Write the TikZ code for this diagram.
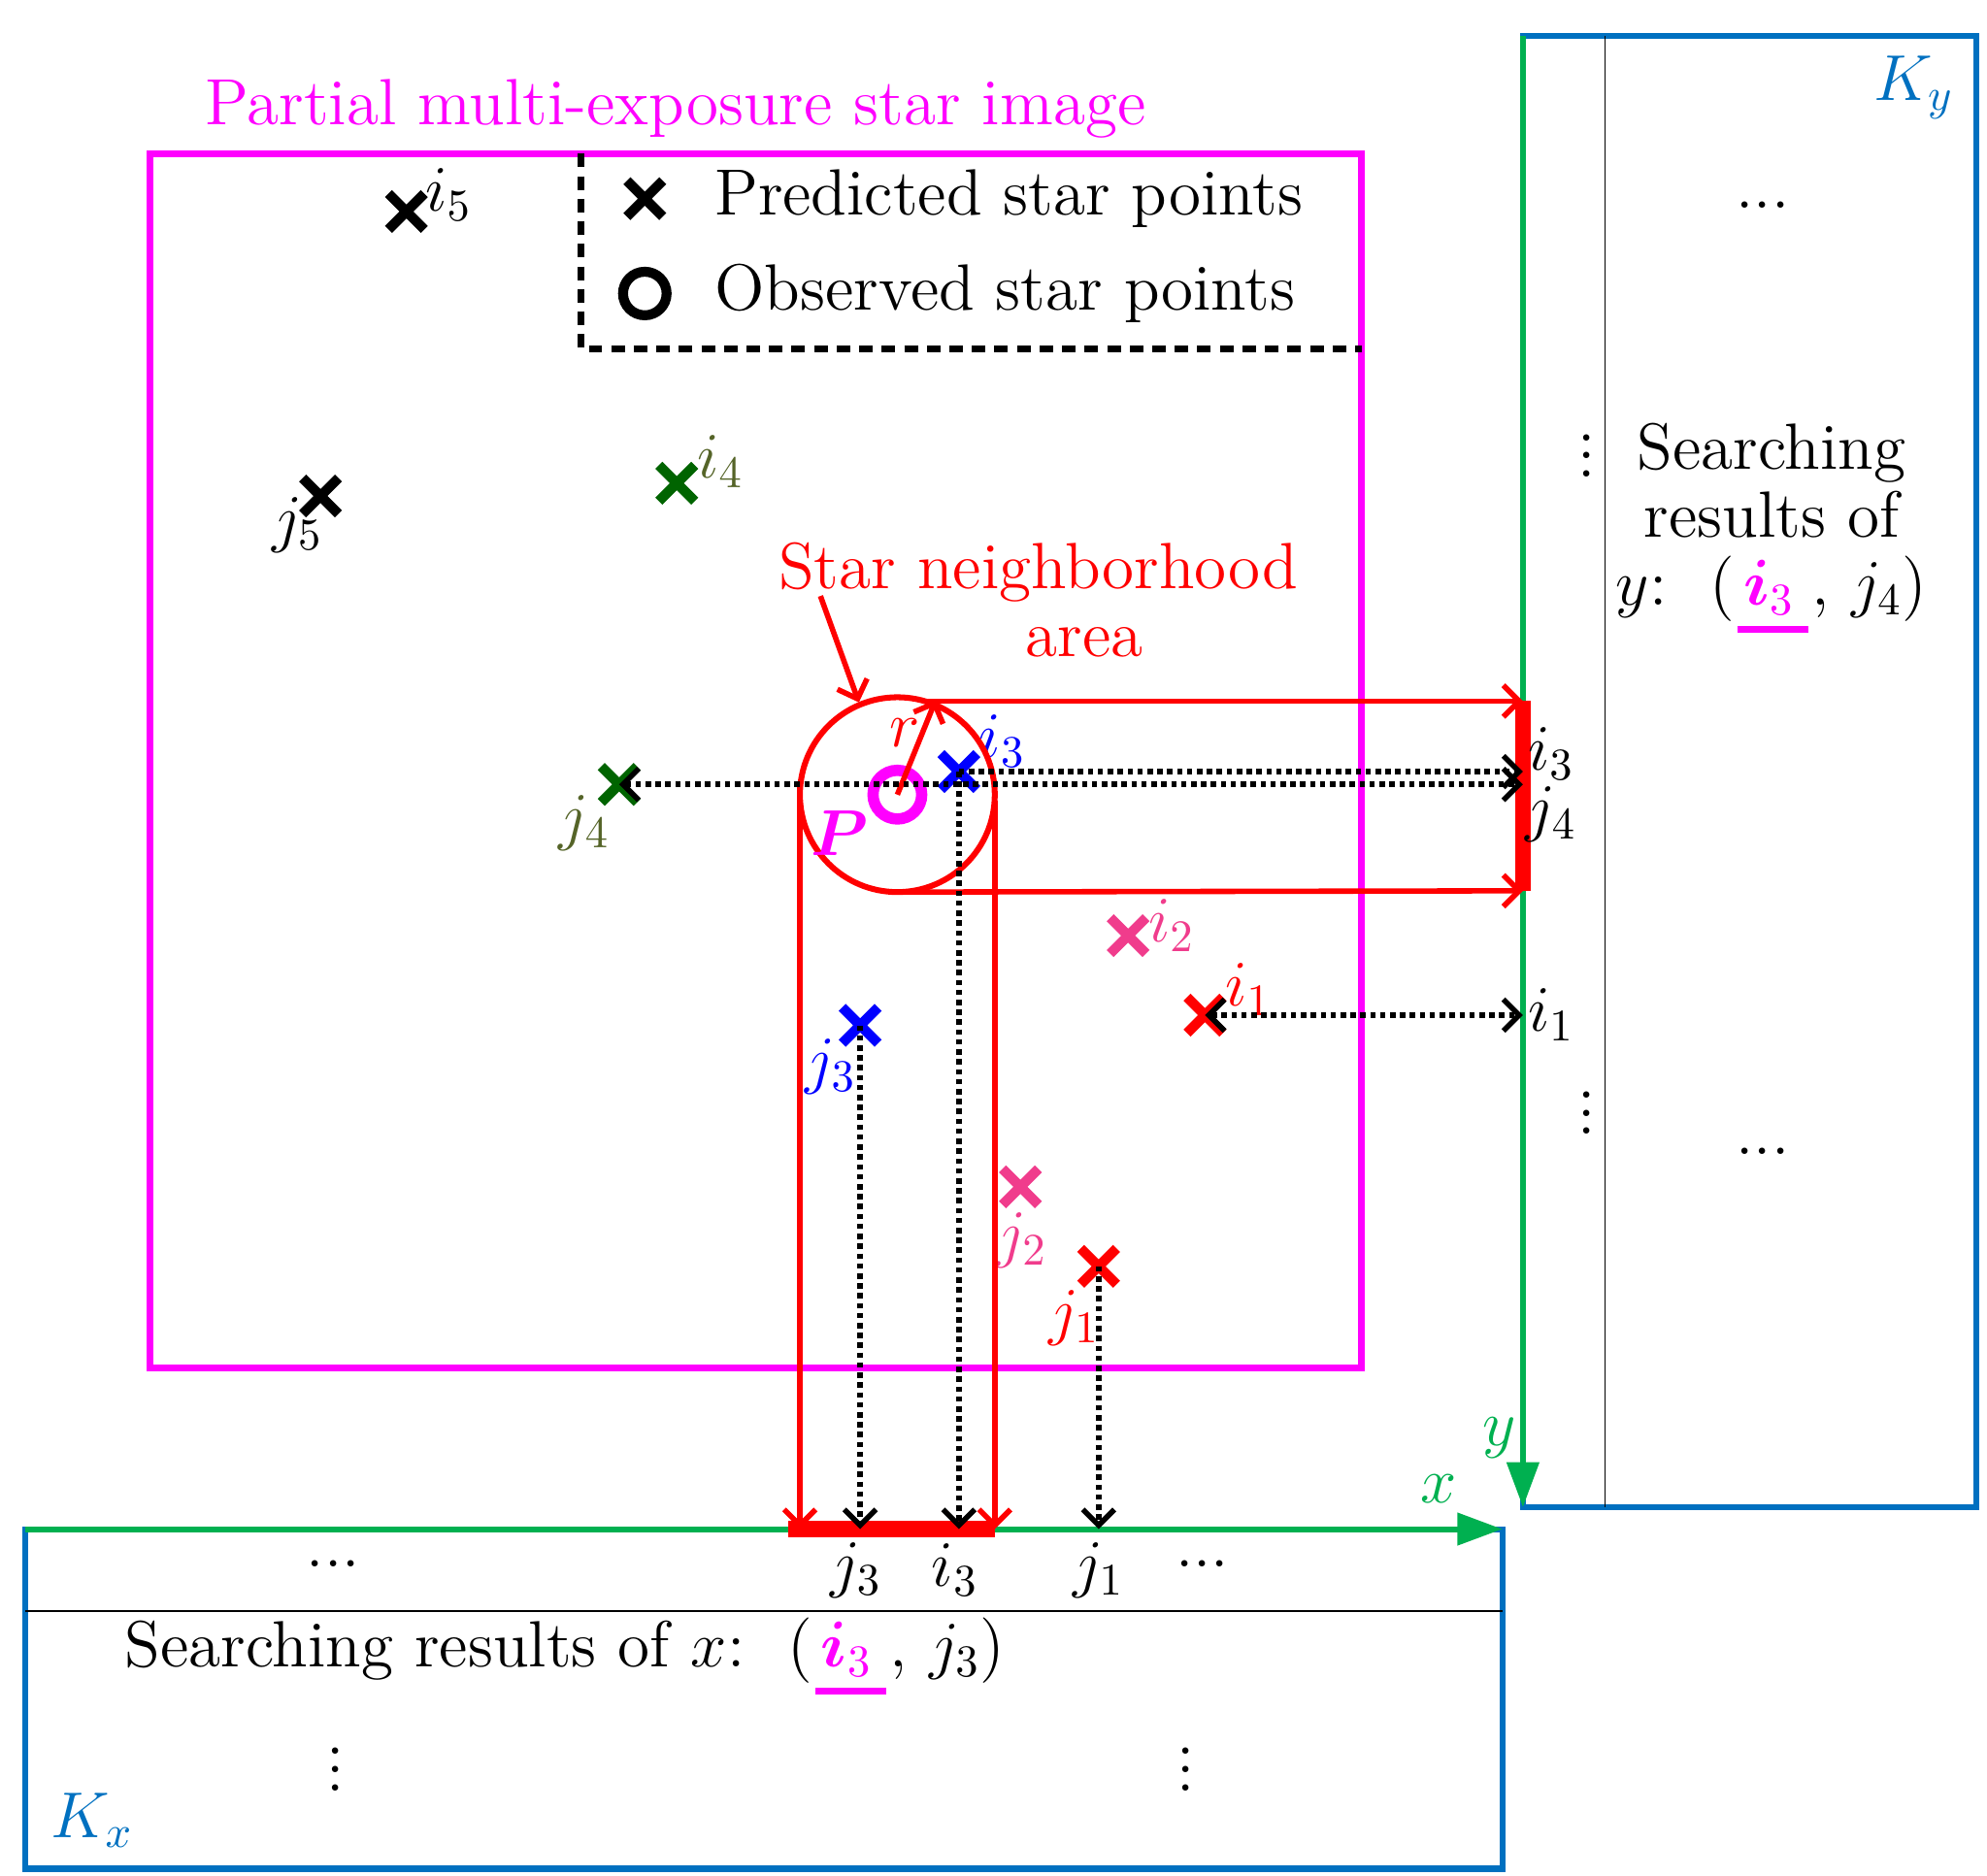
\documentclass[tikz,border=0pt]{standalone}
\usepackage{amsmath}
\usetikzlibrary{arrows.meta,calc}
\definecolor{mag}{RGB}{255,0,255}
\definecolor{kblue}{RGB}{0,112,192}
\definecolor{kgreen}{RGB}{0,176,80}
\definecolor{dgreen}{RGB}{0,100,0}
\definecolor{olive}{RGB}{85,100,40}
\definecolor{pinkx}{RGB}{240,60,140}
\newcommand{\magi}{\tikz[baseline=0pt]{\node[inner sep=0pt,anchor=base,text=mag] (u) {$\boldsymbol{i}_3$};\draw[mag,line width=1.5pt] ([xshift=-1pt,yshift=-3pt]u.south west) -- ([xshift=3pt,yshift=-3pt]u.south east);}}
\begin{document}
\begin{tikzpicture}[x=0.01cm,y=-0.01cm,
  big/.style={font=\fontsize{14.5}{17}\selectfont},
  lab/.style={font=\fontsize{14}{16}\selectfont},
  dotarr/.style={densely dotted,line width=1.2pt,-{Straight Barb[length=3.5pt]}},
  redarr/.style={red,line width=1.2pt,-{Straight Barb[length=3.5pt]}},
  xm/.style={line width=2.2pt}]
\useasboundingbox (0,0) rectangle (1550,1463);
\newcommand{\xmark}[3]{\coordinate (#3) at (#2);
  \draw[xm,#1] ($(#3)+(-14,-14)$) -- ($(#3)+(14,14)$) ($(#3)+(-14,14)$) -- ($(#3)+(14,-14)$);}
% frames
\draw[mag,line width=1.5pt] (117,120) rectangle (1062,1067);
\node[big,text=mag] (title) at (527,85) {Partial multi-exposure star image};
\draw[line width=1.5pt,densely dashed] (453,120) -- (453,272) -- (1062,272);
\draw[kblue,line width=1.3pt] (1188,28) rectangle (1542,1176);
\draw (1252,28) -- (1252,1176);
\draw[kblue,line width=1.3pt] (20,1193) rectangle (1172,1458);
\draw (20,1257) -- (1172,1257);
\coordinate (ys) at (1188,28); \coordinate (ye) at (1188,1176);
\coordinate (xs) at (20,1193); \coordinate (xe) at (1172,1193);
\draw[kgreen,line width=1.3pt,-{Triangle[length=10pt,width=7pt]}] (ys) -- (ye);
\draw[kgreen,line width=1.3pt,-{Triangle[length=10pt,width=7pt]}] (xs) -- (xe);
\node[lab,text=kgreen] (ylab) at (1170,1122) {$y$};
\node[lab,text=kgreen] (xlab) at (1122,1162) {$x$};
\node[big,text=kblue] (Ky) at (1493,68) {$K_y$};
\node[big,text=kblue] (Kx) at (72,1420) {$K_x$};
% legend
\xmark{black}{503,155}{lx}
\draw[line width=2.2pt] (503,229) circle (17);
\node[big,anchor=west] (l1) at (545,155) {Predicted star points};
\node[big,anchor=west] (l2) at (545,229) {Observed star points};
% Ky texts
\node[big] (d1) at (1375,160) {...};
\node[big] (v1) at (1238,345) {$\vdots$};
\node[big,align=center] (sy) at (1382,412) {Searching\\[-2pt] results of\\[-2pt] $y$:\ \ (\magi, $j_4$)};
\node[big] (v2) at (1238,858) {$\vdots$};
\node[big] (d2) at (1375,898) {...};
% Kx texts
\node[big] (d3) at (260,1220) {...};
\node[lab] (kj3) at (668,1225) {$j_3$};
\node[lab] (ki3) at (745,1225) {$i_3$};
\node[lab] (kj1) at (857,1225) {$j_1$};
\node[big] (d4) at (938,1220) {...};
\node[big,anchor=west] (sx) at (85,1292) {Searching results of $x$:\ \ (\magi, $j_3$)};
\node[big] (v3) at (262,1370) {$\vdots$};
\node[big] (v4) at (925,1370) {$\vdots$};
% crosses
\xmark{black}{317,165}{i5} \node[lab] at (350,152) {$i_5$};
\xmark{black}{250,387}{j5} \node[lab] at (232,410) {$j_5$};
\xmark{dgreen}{528,377}{i4} \node[lab,text=olive] at (562,360) {$i_4$};
\xmark{dgreen}{483,612}{j4} \node[lab,text=olive] at (456,642) {$j_4$};
\xmark{blue}{748,602}{i3} \node[lab,text=blue] at (782,578) {$i_3$};
\xmark{blue}{671,800}{j3} \node[lab,text=blue] at (648,832) {$j_3$};
\xmark{pinkx}{880,730}{i2} \node[lab,text=pinkx] at (914,722) {$i_2$};
\xmark{pinkx}{796,926}{j2} \node[lab,text=pinkx] at (797,968) {$j_2$};
\xmark{red}{940,792}{i1} \node[lab,text=red] at (974,772) {$i_1$};
\xmark{red}{857,988}{j1} \node[lab,text=red] at (838,1028) {$j_1$};
% neighborhood
\coordinate (P) at (700,620);
\draw[red,line width=1.3pt] (P) circle (76);
\draw[mag,line width=2.5pt] (P) circle (19);
\node[big,text=mag] (Plab) at (655,650) {$\boldsymbol{P}$};
\coordinate (rt) at (730,546);
\draw[redarr] (P) -- (rt);
\node[lab,text=red] (rlab) at (706,572) {$r$};
\node[big,text=red,align=center] (sn) at (810,468) {Star neighborhood\\[-2pt] \hspace*{1.4em}area};
\coordinate (sna) at (670,548);
\draw[redarr] (640,465) -- (sna);
% projections on y
\coordinate (ya) at (1188,547); \coordinate (yb) at (1188,695);
\draw[redarr] (722,547) -- (ya);
\draw[redarr] (700,696) -- (yb);
\draw[red,line width=3.5pt] (ya) -- (yb);
% projections on x
\coordinate (xa) at (624,1193); \coordinate (xb) at (776,1193);
\draw[redarr] (624,610) -- (xa);
\draw[redarr] (776,625) -- (xb);
\draw[red,line width=3.5pt] (615,1193) -- (xb);
% dotted
\coordinate (yi3) at (1188,602); \coordinate (yj4) at (1188,612); \coordinate (yi1) at (1188,792);
\draw[dotarr] (i3) -- (yi3);
\draw[dotarr,{Straight Barb[length=3.5pt]}-{Straight Barb[length=3.5pt]}] (j4) -- (yj4);
\draw[dotarr,{Straight Barb[length=3.5pt]}-{Straight Barb[length=3.5pt]}] (i1) -- (yi1);
\node[lab] (yli3) at (1210,588) {$i_3$};
\node[lab] (ylj4) at (1210,635) {$j_4$};
\node[lab] (yli1) at (1210,792) {$i_1$};
\draw[dotarr] (j3) -- (671,1193);
\draw[dotarr] (i3) -- (748,1193);
\draw[dotarr] (j1) -- (857,1193);
\end{tikzpicture}
\end{document}
